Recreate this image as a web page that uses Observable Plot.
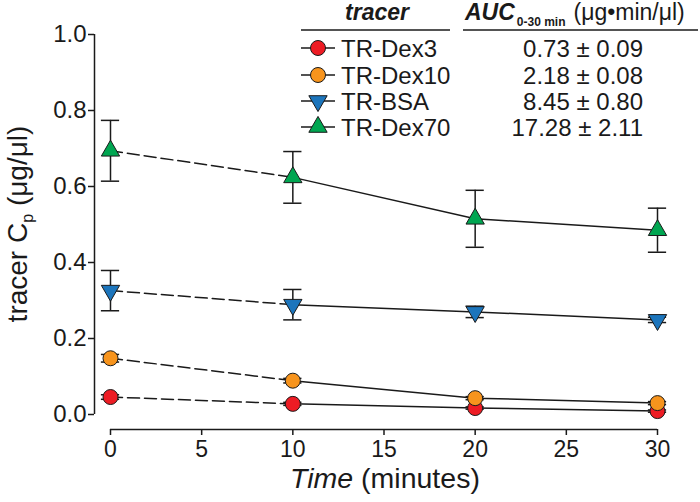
<!DOCTYPE html>
<html>
<head>
<meta charset="utf-8">
<script src="https://cdn.jsdelivr.net/npm/d3@7"></script>
<script src="https://cdn.jsdelivr.net/npm/@observablehq/plot@0.6"></script>
<style>
  html, body { margin: 0; padding: 0; background: #fff; }
  #chart { width: 700px; height: 502px; }
  svg { font-family: "Liberation Sans", Arial, sans-serif; }
</style>
</head>
<body>
<div id="chart"></div>
<script>
// ---- data ----
const times = [0, 10, 20, 30];
const tracers = ["TR-Dex3", "TR-Dex10", "TR-BSA", "TR-Dex70"];
const colors = ["#ED1C24", "#F7941D", "#1C75BC", "#00A651"];
const symbols = ["circle", "circle", "triangle", "triangle"];
const rotations = [0, 0, 180, 0];
const meanDex3 = [0.046, 0.028, 0.017, 0.009];
const semDex3 = [0.006, 0.004, 0.003, 0.003];
const meanDex10 = [0.148, 0.089, 0.043, 0.030];
const semDex10 = [0.010, 0.006, 0.004, 0.004];
const meanBSA = [0.326, 0.289, 0.270, 0.249];
const semBSA = [0.053, 0.040, 0.015, 0.007];
const meanDex70 = [0.694, 0.624, 0.515, 0.485];
const semDex70 = [0.080, 0.068, 0.075, 0.058];
const aucLabels = ["0.73 ± 0.09", "2.18 ± 0.08", "8.45 ± 0.80", "17.28 ± 2.11"];
const yTicks = [0, 0.2, 0.4, 0.6, 0.8, 1.0];
const xTicks = [0, 5, 10, 15, 20, 25, 30];

const means = [meanDex3, meanDex10, meanBSA, meanDex70];
const sems = [semDex3, semDex10, semBSA, semDex70];
const rows = [];
tracers.forEach((name, i) => {
  times.forEach((t, j) => rows.push({tracer: name, i, t, v: means[i][j], e: sems[i][j]}));
});

const ink = "#1a1a1a";
const marks = [
  Plot.ruleY([0], {x1: 0, x2: 30, dy: 15, stroke: ink, strokeWidth: 1.5}),
  Plot.ruleX([0], {y1: 0, y2: 1, dx: -16, stroke: ink, strokeWidth: 1.5}),
  Plot.axisX({ticks: xTicks, dy: 15, tickSize: 6, tickPadding: 5, fontSize: 23, label: null, stroke: ink, strokeWidth: 1.5, fill: ink}),
  Plot.axisY({ticks: yTicks, tickFormat: d3.format(".1f"), dx: -16, tickSize: 6, tickPadding: 2, fontSize: 24, label: null, stroke: ink, strokeWidth: 1.5, fill: ink}),
  Plot.line(rows.filter(d => d.t <= 10), {x: "t", y: "v", z: "tracer", stroke: ink, strokeWidth: 1.5, strokeDasharray: "12,5"}),
  Plot.line(rows.filter(d => d.t >= 10), {x: "t", y: "v", z: "tracer", stroke: ink, strokeWidth: 1.5}),
  Plot.ruleX(rows, {x: "t", y1: d => d.v - d.e, y2: d => d.v + d.e, stroke: ink, strokeWidth: 1.5}),
  Plot.ruleY(rows, {y: d => d.v + d.e, x1: d => d.t - 0.5, x2: d => d.t + 0.5, stroke: ink, strokeWidth: 1.5}),
  Plot.ruleY(rows, {y: d => d.v - d.e, x1: d => d.t - 0.5, x2: d => d.t + 0.5, stroke: ink, strokeWidth: 1.5})
];
tracers.forEach((name, i) => {
  marks.push(Plot.dot(rows.filter(d => d.i === i), {
    x: "t", y: "v", symbol: symbols[i], rotate: rotations[i],
    r: symbols[i] === "circle" ? 7.5 : 6.8,
    fill: colors[i], stroke: ink, strokeWidth: 1, fillOpacity: 1
  }));
});

const chart = Plot.plot({
  width: 700, height: 502,
  marginLeft: 110, marginRight: 43, marginTop: 34, marginBottom: 88,
  x: {domain: [0, 30]},
  y: {domain: [0, 1]},
  style: {fontFamily: "Liberation Sans, Arial, sans-serif", background: "#fff", color: ink},
  marks
});
document.getElementById("chart").appendChild(chart);

// ---- titles and legend table ----
const svg = d3.select(chart);
const font = "Liberation Sans, Arial, sans-serif";

// y title
const yt = svg.append("text")
  .attr("transform", "translate(27,224) rotate(-90)")
  .attr("text-anchor", "middle")
  .attr("font-family", font).attr("font-size", 28).attr("fill", ink);
yt.append("tspan").text("tracer C");
yt.append("tspan").attr("font-size", 16).attr("dy", 6).text("p");
yt.append("tspan").attr("dy", -6).text(" (μg/μl)");

// x title
const xt = svg.append("text")
  .attr("x", 385).attr("y", 488)
  .attr("text-anchor", "middle")
  .attr("font-family", font).attr("font-size", 28.5).attr("fill", ink);
xt.append("tspan").attr("font-style", "italic").text("Time");
xt.append("tspan").text(" (minutes)");

// legend header
const lg = svg.append("g").attr("font-family", font).attr("fill", ink).attr("text-anchor", "start");
lg.append("text").attr("x", 377).attr("y", 20).attr("text-anchor", "middle")
  .attr("font-size", 23).attr("font-weight", "bold").attr("font-style", "italic").text("tracer");
const auc = lg.append("text").attr("x", 465).attr("y", 20).attr("text-anchor", "start").attr("font-size", 23);
auc.append("tspan").attr("font-weight", "bold").attr("font-style", "italic").text("AUC");
auc.append("tspan").attr("font-weight", "bold").attr("font-size", 12).attr("dy", 6).attr("dx", 2).text("0-30 min");
auc.append("tspan").attr("dy", -6).attr("dx", 8).text("(μg•min/μl)");
lg.append("line").attr("x1", 301).attr("x2", 450).attr("y1", 30).attr("y2", 30).attr("stroke", ink).attr("stroke-width", 1.5);
lg.append("line").attr("x1", 463).attr("x2", 698).attr("y1", 30).attr("y2", 30).attr("stroke", ink).attr("stroke-width", 1.5);

const rowY = [48, 75, 101, 127];
tracers.forEach((name, i) => {
  const y = rowY[i];
  lg.append("line").attr("x1", 301).attr("x2", 335).attr("y1", y).attr("y2", y).attr("stroke", ink).attr("stroke-width", 1.5);
  const sym = symbols[i] === "circle" ? d3.symbolCircle : d3.symbolTriangle;
  const r = symbols[i] === "circle" ? 7.5 : 6.8;
  lg.append("path").attr("d", d3.symbol(sym, Math.PI * r * r)())
    .attr("transform", `translate(318,${y}) rotate(${rotations[i]})`)
    .attr("fill", colors[i]).attr("stroke", ink).attr("stroke-width", 1);
  lg.append("text").attr("x", 341).attr("y", y).attr("dy", "0.36em")
    .attr("text-anchor", "start").attr("font-size", 24).text(name);
  lg.append("text").attr("x", 643).attr("y", y).attr("dy", "0.36em")
    .attr("text-anchor", "end").attr("font-size", 24).text(aucLabels[i]);
});
</script>
</body>
</html>
